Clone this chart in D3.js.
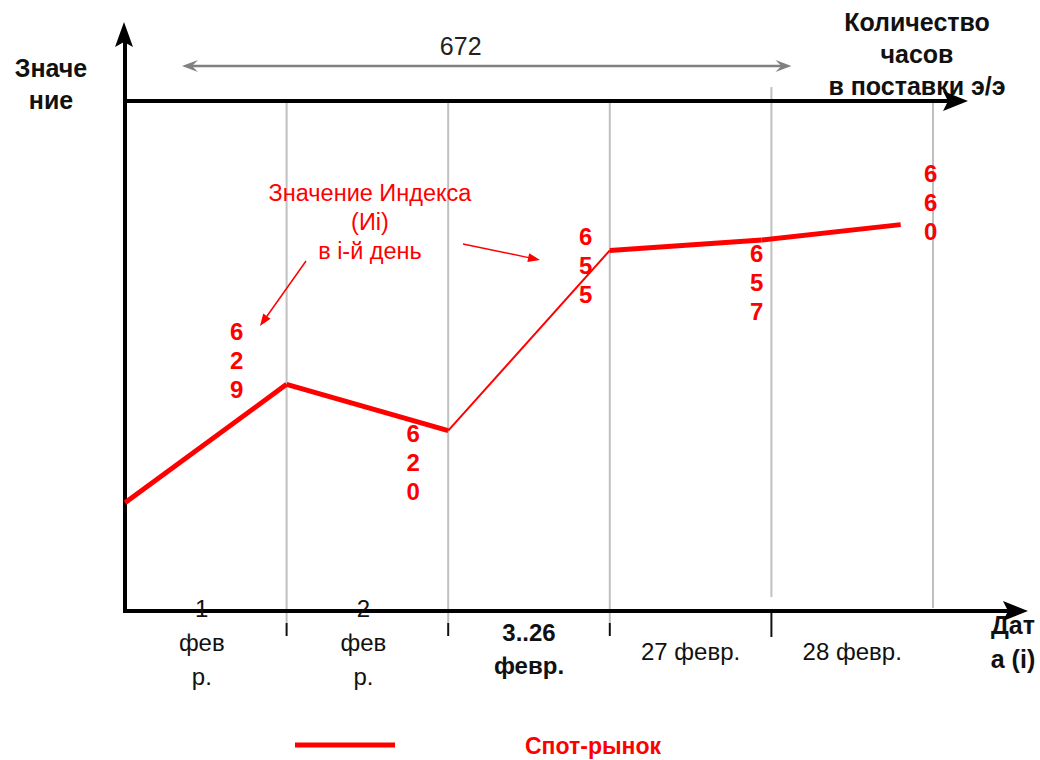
<!DOCTYPE html>
<html>
<head>
<meta charset="utf-8">
<script src="https://cdn.jsdelivr.net/npm/d3@7"></script>
<style>
  html, body { margin: 0; padding: 0; background: #fff; }
  svg { display: block; font-family: "Liberation Sans", Arial, sans-serif; }
</style>
</head>
<body>
<svg id="chart" width="1040" height="760"></svg>
<script>
// Spot-market index over the delivery month
const dayLabels = [["1", "фев", "р."], ["2", "фев", "р."], ["3..26", "февр."], ["27 февр."], ["28 февр."]];
const dayBold = [false, false, true, false, false];
const pointPos = [0, 1, 2, 3, 3.94, 4.8];          // position along the date axis, in day slots
const spotValues = [606, 629, 620, 655, 657, 660]; // index value Иi
const valueShown = [false, true, true, true, true, true];
const totalHours = 672;
const seriesName = "Спот-рынок";
const yTitle = ["Значе", "ние"];
const xTitle = ["Дат", "а (i)"];
const hoursTitle = ["Количество", "часов", "в поставки э/э"];
const noteLines = ["Значение Индекса", "(Иi)", "в i-й день"];

const svg = d3.select("#chart");
const RED = "#ff0000";
const GRID = "#c0c0c0";

const x = d3.scaleLinear().domain([0, 5]).range([125, 933]);
const y = d3.scaleLinear().domain([585, 684]).range([611, 101]);

const axisBottom = y.range()[0];
const axisTop = y.range()[1];

// arrowhead with a notched back, pointing along angle (radians)
function arrowHead(g, tx, ty, angle, len, half, notch, fill) {
  const c = Math.cos(angle), s = Math.sin(angle);
  const pt = (a, b) => [tx - a * c - b * -s, ty - a * s - b * c];
  const p = [pt(0, 0), pt(len, half), pt(len - notch, 0), pt(len, -half)];
  g.append("path").attr("d", "M" + p.map(q => q.join(",")).join("L") + "Z").attr("fill", fill);
}

// ---- titles ----
const titles = svg.append("g").attr("font-weight", "bold").attr("fill", "#111").attr("font-size", 25);
titles.selectAll("text.yt").data(yTitle).join("text")
  .attr("x", 51).attr("y", (d, i) => 77 + i * 32).attr("text-anchor", "middle").text(d => d);
titles.selectAll("text.ht").data(hoursTitle).join("text")
  .attr("x", 917).attr("y", (d, i) => 31 + i * 32).attr("text-anchor", "middle").text(d => d);
titles.selectAll("text.xt").data(xTitle).join("text")
  .attr("x", 1013).attr("y", (d, i) => 634 + i * 34).attr("text-anchor", "middle").text(d => d);

// ---- grid lines at day boundaries ----
const grid = svg.append("g").attr("stroke", GRID).attr("stroke-width", 2);
[1, 2, 3].forEach(i => grid.append("line")
  .attr("x1", x(i)).attr("x2", x(i)).attr("y1", axisTop).attr("y2", axisBottom + 12));
grid.append("line").attr("x1", x(4)).attr("x2", x(4)).attr("y1", axisTop - 14).attr("y2", axisBottom - 14);
grid.append("line").attr("x1", x(5)).attr("x2", x(5)).attr("y1", axisTop).attr("y2", axisBottom - 3);

// ticks under the date axis
const ticks = svg.append("g").attr("stroke", "#111").attr("stroke-width", 2);
[1, 2, 3].forEach(i => ticks.append("line")
  .attr("x1", x(i)).attr("x2", x(i)).attr("y1", axisBottom + 12).attr("y2", axisBottom + 25));
ticks.append("line").attr("x1", x(4)).attr("x2", x(4)).attr("y1", axisBottom).attr("y2", axisBottom + 26);

// ---- hours span arrow ----
const span = svg.append("g");
const spanY = 66, spanX0 = x(0) + 57, spanX1 = x(4) + 20;
span.append("line").attr("x1", spanX0 + 6).attr("x2", spanX1 - 6).attr("y1", spanY).attr("y2", spanY)
  .attr("stroke", "#808080").attr("stroke-width", 2.5);
arrowHead(span, spanX0, spanY, Math.PI, 16, 6, 6, "#808080");
arrowHead(span, spanX1, spanY, 0, 16, 6, 6, "#808080");
span.append("text").attr("x", (spanX0 + spanX1) / 2 - 26).attr("y", 55).attr("text-anchor", "middle")
  .attr("font-size", 25).attr("fill", "#222").text(totalHours);

// ---- axes ----
const axes = svg.append("g").attr("stroke", "#000").attr("stroke-width", 4);
axes.append("line").attr("x1", x(0)).attr("x2", x(0)).attr("y1", axisBottom + 2).attr("y2", 40);
axes.append("line").attr("x1", x(0) - 2).attr("x2", 1012).attr("y1", axisBottom).attr("y2", axisBottom);
axes.append("line").attr("x1", x(0)).attr("x2", 952).attr("y1", axisTop).attr("y2", axisTop);
arrowHead(svg, x(0) - 1, 22, -Math.PI / 2, 25, 9, 5, "#000");
arrowHead(svg, 1028, axisBottom, 0, 25, 10, 5, "#000");
arrowHead(svg, 968, axisTop, 0, 25, 10, 5, "#000");

// ---- date labels ----
const dl = svg.append("g").attr("fill", "#111").attr("font-size", 24).attr("text-anchor", "middle");
dayLabels.forEach((lines, i) => {
  const n = lines.length;
  const cy = n === 1 ? 652 : (n === 2 ? 649 : 643);
  const step = n === 2 ? 33 : 34;
  lines.forEach((t, k) => {
    dl.append("text")
      .attr("x", x(i + 0.5) - (i < 2 ? 4 : 0))
      .attr("y", cy + (k - (n - 1) / 2) * step + 8)
      .attr("font-weight", dayBold[i] ? "bold" : "normal")
      .text(t);
  });
});

// ---- spot index line ----
const pts = pointPos.map((p, i) => [x(p), y(spotValues[i])]);
const segWidth = [5, 5, 2, 5, 5];
const line = d3.line();
svg.append("g").selectAll("path").data(d3.pairs(pts)).join("path")
  .attr("d", d => line(d)).attr("fill", "none").attr("stroke", RED)
  .attr("stroke-width", (d, i) => segWidth[i]).attr("stroke-linecap", "butt");

// value labels written as stacked digits beside each point
const labelOffset = [null, [-50, -24], [-35, 31], [-24, 15], [-5, 42], [30, -23]];
const vl = svg.append("g").attr("fill", RED).attr("font-weight", "bold").attr("font-size", 24)
  .attr("text-anchor", "middle");
spotValues.forEach((v, i) => {
  if (!valueShown[i]) return;
  const [dx, dy] = labelOffset[i];
  String(v).split("").forEach((ch, k) => {
    vl.append("text").attr("x", pts[i][0] + dx).attr("y", pts[i][1] + dy + (k - 1) * 29 + 9).text(ch);
  });
});

// ---- note with pointers ----
const note = svg.append("g").attr("fill", RED);
note.selectAll("text").data(noteLines).join("text")
  .attr("x", 370).attr("y", (d, i) => 201 + i * 29).attr("text-anchor", "middle")
  .attr("font-size", 23.5).text(d => d);
function pointer(x1, y1, x2, y2) {
  const ang = Math.atan2(y2 - y1, x2 - x1);
  note.append("line").attr("x1", x1).attr("y1", y1)
    .attr("x2", x2 - 8 * Math.cos(ang)).attr("y2", y2 - 8 * Math.sin(ang))
    .attr("stroke", RED).attr("stroke-width", 1.5);
  arrowHead(note, x2, y2, ang, 12, 4.5, 0, RED);
}
pointer(306, 261, 260, 326);
pointer(463, 244, 540, 260);

// ---- legend ----
const lg = svg.append("g");
lg.append("line").attr("x1", 295).attr("x2", 395).attr("y1", 745).attr("y2", 745)
  .attr("stroke", RED).attr("stroke-width", 5);
lg.append("text").attr("x", 525).attr("y", 754).attr("fill", RED).attr("font-weight", "bold")
  .attr("font-size", 23).text(seriesName);
</script>
</body>
</html>
